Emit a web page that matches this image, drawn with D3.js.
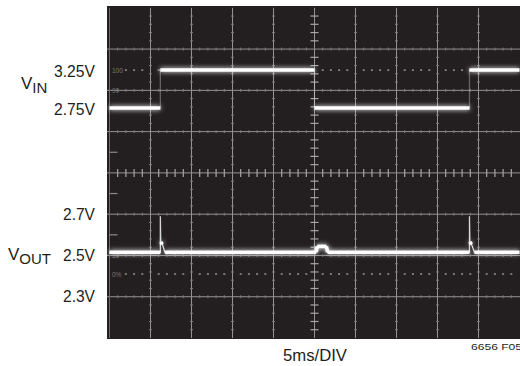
<!DOCTYPE html>
<html><head><meta charset="utf-8">
<script src="https://cdn.jsdelivr.net/npm/d3@7/dist/d3.min.js"></script>
<style>html,body{margin:0;padding:0;background:#fff;}svg{display:block;}</style>
</head><body>
<script>
// ---- data ----
const timeDomain = [0, 50];            // ms, 5ms/DIV x 10 div
const vinT = [0, 6.2, 6.2, 25.0, 25.0, 43.9, 43.9, 50];
const vinV = [2.75, 2.75, 3.25, 3.25, 2.75, 2.75, 3.25, 3.25];
const voutT = [0, 6.2, 6.2, 6.25, 6.45, 6.75, 25.2, 25.35, 26.45, 26.6, 43.9, 43.9, 43.95, 44.15, 44.5, 50];
const voutV = [2.51, 2.51, 2.684, 2.56, 2.548, 2.51, 2.51, 2.538, 2.538, 2.51, 2.51, 2.684, 2.56, 2.548, 2.51, 2.51];
const vinTickValues = [3.25, 2.75];
const vinTickLabels = ["3.25V", "2.75V"];
const voutTickValues = [2.7, 2.5, 2.3];
const voutTickLabels = ["2.7V", "2.5V", "2.3V"];
const markerLabels = ["100", "90", "10", "0%"];
const markerDivs = [6.49, 6.0, 2.0, 1.55];
const dottedDivs = [6.49, 1.55];
const edgeDashDivs = [2.5, 3.5, 4.5];
const xLabel = "5ms/DIV";
const figLabel = "6656 F05";

// ---- layout ----
const W = 520, H = 366;
const svg = d3.select("body").append("svg").attr("width", W).attr("height", H);
const x = d3.scaleLinear().domain(timeDomain).range([109.5, 519.5]);
const yDiv = d3.scaleLinear().domain([0, 8]).range([338, 7.8]);
const xDiv = d3.scaleLinear().domain([0, 10]).range([109.5, 519.5]);
const yVin = d3.scaleLinear().domain([2.75, 3.25]).range([108, 70]);
const yVout = d3.scaleLinear().domain([2.3, 2.7]).range([295.5, 213]);

const defs = svg.append("defs");
const glow = defs.append("filter").attr("id", "glow").attr("filterUnits", "userSpaceOnUse")
  .attr("x", 100).attr("y", 0).attr("width", 430).attr("height", 345);
glow.append("feGaussianBlur").attr("in", "SourceGraphic").attr("stdDeviation", 2.5).attr("result", "b");
const m = glow.append("feMerge");
m.append("feMergeNode").attr("in", "b");
m.append("feMergeNode").attr("in", "SourceGraphic");

// screen
svg.append("rect").attr("x", 107).attr("y", 6).attr("width", W - 107).attr("height", 333).attr("fill", "#231f20");

const grid = svg.append("g").attr("stroke", "#949292").attr("stroke-width", 1).attr("fill", "none");
d3.range(1, 10).forEach(i => {
  grid.append("line").attr("x1", xDiv(i)).attr("x2", xDiv(i)).attr("y1", yDiv(8)).attr("y2", yDiv(0));
});
d3.range(1, 8).forEach(i => {
  grid.append("line").attr("y1", yDiv(i)).attr("y2", yDiv(i)).attr("x1", 107).attr("x2", W);
});
grid.append("line").attr("x1", xDiv(0)).attr("x2", xDiv(0)).attr("y1", yDiv(8)).attr("y2", yDiv(0)).attr("stroke", "#6c6a6a");

// minor ticks on center axes
const minorX = d3.range(1, 50).filter(k => k % 5 !== 0).map(k => k / 5);
const minorY = d3.range(1, 40).filter(k => k % 5 !== 0).map(k => k / 5);
const ticks = svg.append("g").attr("stroke", "#a9a7a7").attr("stroke-width", 1.2);
minorX.forEach(d => ticks.append("line").attr("x1", xDiv(d)).attr("x2", xDiv(d)).attr("y1", yDiv(4) - 4).attr("y2", yDiv(4) + 4));
minorY.forEach(d => ticks.append("line").attr("y1", yDiv(d)).attr("y2", yDiv(d)).attr("x1", xDiv(5) - 4).attr("x2", xDiv(5) + 4));
const small = svg.append("g").attr("stroke", "#7d7b7b").attr("stroke-width", 1);
d3.range(1, 8).filter(i => i !== 4).forEach(i => minorX.forEach(d => small.append("line").attr("x1", xDiv(d)).attr("x2", xDiv(d)).attr("y1", yDiv(i) - 1.5).attr("y2", yDiv(i) + 1.5)));
d3.range(1, 10).filter(i => i !== 5).forEach(i => minorY.forEach(d => small.append("line").attr("y1", yDiv(d)).attr("y2", yDiv(d)).attr("x1", xDiv(i) - 1.5).attr("x2", xDiv(i) + 1.5)));
edgeDashDivs.forEach(d => svg.append("line").attr("x1", xDiv(0)).attr("x2", xDiv(0) + 8).attr("y1", yDiv(d)).attr("y2", yDiv(d)).attr("stroke", "#8c8a8a").attr("stroke-width", 1.2));

// dotted reference lines
const dots = svg.append("g").attr("fill", "#8f8d8d");
dottedDivs.forEach(dv => {
  minorX.filter(d => d > 0.3).forEach(d => dots.append("rect").attr("x", xDiv(d) - 1).attr("y", yDiv(dv) - 0.8).attr("width", 2).attr("height", 1.6));
});
markerLabels.forEach((t, i) => {
  svg.append("text").attr("x", 112).attr("y", yDiv(markerDivs[i]) + 2.5).attr("font-family", "Liberation Sans, Arial, sans-serif")
    .attr("font-size", 6.5).attr("fill", "#7a7878").text(t);
});

// traces
const vinData = vinT.map((t, i) => ({t, v: vinV[i]}));
const voutData = voutT.map((t, i) => ({t, v: voutV[i]}));
const lineVin = d3.line().x(d => x(d.t)).y(d => yVin(d.v));
const lineVout = d3.line().x(d => x(d.t)).y(d => yVout(d.v));

function drawTrace(data, line, edgeOpacity) {
  svg.append("path").datum(data).attr("d", line).attr("fill", "none").attr("stroke", "#e0e0e0")
    .attr("stroke-width", 1.3).attr("stroke-opacity", edgeOpacity);
  const g = svg.append("g").attr("filter", "url(#glow)");
  for (let i = 0; i < data.length - 1; i++) {
    if (Math.abs(data[i].v - data[i + 1].v) < 0.035) {
      g.append("path").datum([data[i], data[i + 1]]).attr("d", line).attr("fill", "none")
        .attr("stroke", "#ffffff").attr("stroke-width", 3.6).attr("stroke-linecap", "butt");
    }
  }
}
drawTrace(vinData, lineVin, 0.35);
drawTrace(voutData, lineVout, 0.95);

// labels
const font = "Liberation Sans, Arial, sans-serif";
const txt = svg.append("g").attr("font-family", font).attr("fill", "#231f20");
vinTickValues.forEach((v, i) => txt.append("text").attr("x", 95).attr("y", yVin(v) + 6.5).attr("text-anchor", "end")
  .attr("font-size", 17).attr("textLength", 41).attr("lengthAdjust", "spacingAndGlyphs").text(vinTickLabels[i]));
voutTickValues.forEach((v, i) => txt.append("text").attr("x", 95).attr("y", yVout(v) + 6.5).attr("text-anchor", "end")
  .attr("font-size", 17).attr("textLength", 32).attr("lengthAdjust", "spacingAndGlyphs").text(voutTickLabels[i]));

const vin = txt.append("text").attr("x", 21).attr("y", 89).attr("font-size", 17);
vin.append("tspan").text("V");
vin.append("tspan").attr("dy", 4).attr("font-size", 15).text("IN");
const vout = txt.append("text").attr("x", 8).attr("y", 260).attr("font-size", 17);
vout.append("tspan").text("V");
vout.append("tspan").attr("dy", 4).attr("font-size", 15).text("OUT");

txt.append("text").attr("x", 283).attr("y", 361).attr("font-size", 17).attr("textLength", 64).attr("lengthAdjust", "spacingAndGlyphs").text(xLabel);
txt.append("text").attr("x", 471).attr("y", 350).attr("font-size", 9.5).attr("textLength", 51).attr("lengthAdjust", "spacingAndGlyphs").text(figLabel);
</script>
</body></html>
